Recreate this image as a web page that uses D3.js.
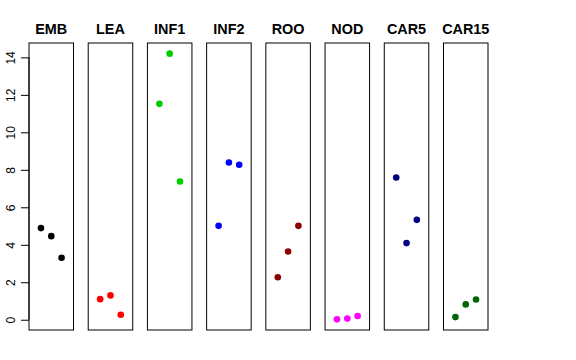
<!DOCTYPE html>
<html><head><meta charset="utf-8">
<script src="https://cdn.jsdelivr.net/npm/d3@7"></script>
<style>body{margin:0;background:#fff}svg{display:block}</style>
</head><body><div id="chart"></div>
<script>
const categories = ["EMB","LEA","INF1","INF2","ROO","NOD","CAR5","CAR15"];
const colors = ["#000000","#FF0000","#00CD00","#0000FF","#8B0000","#FF00FF","#000080","#006400"];
const replicateX = [1,2,3];
const EMB  = [4.89, 4.46, 3.31];
const LEA  = [1.10, 1.30, 0.27];
const INF1 = [11.52, 14.20, 7.38];
const INF2 = [5.01, 8.39, 8.27];
const ROO  = [2.27, 3.64, 5.01];
const NOD  = [0.02, 0.06, 0.20];
const CAR5 = [7.59, 4.09, 5.33];
const CAR15= [0.14, 0.82, 1.08];
const seriesValues = [EMB, LEA, INF1, INF2, ROO, NOD, CAR5, CAR15];
const yTicks = [0,2,4,6,8,10,12,14];

const W = 576, H = 360;
const svg = d3.select("#chart").append("svg").attr("width", W).attr("height", H)
  .style("font-family", "'Liberation Sans', Arial, Helvetica, sans-serif");

const all = seriesValues.flat();
const lo = d3.min(all), hi = d3.max(all), pad = (hi - lo) * 0.04;
const y = d3.scaleLinear().domain([lo - pad, hi + pad]).range([330, 43]);

const band = d3.scaleBand().domain(categories).range([29, 488]).paddingInner(0.248).paddingOuter(0);
const xIn = d3.scaleLinear().domain([1 - 2*0.04*1.0 - 1, 3 + 1 + 0.16]).range([0, band.bandwidth()]);
xIn.domain([-0.16, 4.16]);

// y axis
const yAxis = d3.axisLeft(y).tickValues(yTicks).tickSize(8).tickPadding(6).tickSizeOuter(0);
const gA = svg.append("g").attr("transform", "translate(29,0)").call(yAxis);
gA.select(".domain").attr("d", `M0,${y(0)}V${y(14)}`).attr("stroke", "#000");
gA.selectAll(".tick line").attr("stroke", "#000");
gA.selectAll(".tick text")
  .attr("font-size", 12).attr("fill", "#000")
  .attr("text-anchor", "middle")
  .attr("dy", null)
  .attr("x", null)
  .attr("transform", "translate(-14,0) rotate(-90)")
  .attr("dominant-baseline", "auto");

categories.forEach((c, i) => {
  const g = svg.append("g").attr("transform", `translate(${band(c)},0)`);
  g.append("rect").attr("x", 0).attr("y", 43)
    .attr("width", band.bandwidth()).attr("height", 330 - 43)
    .attr("fill", "none").attr("stroke", "#000").attr("stroke-width", 1);
  g.append("text").attr("x", band.bandwidth() / 2).attr("y", 34)
    .attr("text-anchor", "middle").attr("font-weight", "bold").attr("font-size", 14.4)
    .text(c);
  g.selectAll("circle").data(seriesValues[i]).enter().append("circle")
    .attr("cx", (d, j) => xIn(replicateX[j]))
    .attr("cy", d => y(d))
    .attr("r", 3.3)
    .attr("fill", colors[i]);
});
</script></body></html>
